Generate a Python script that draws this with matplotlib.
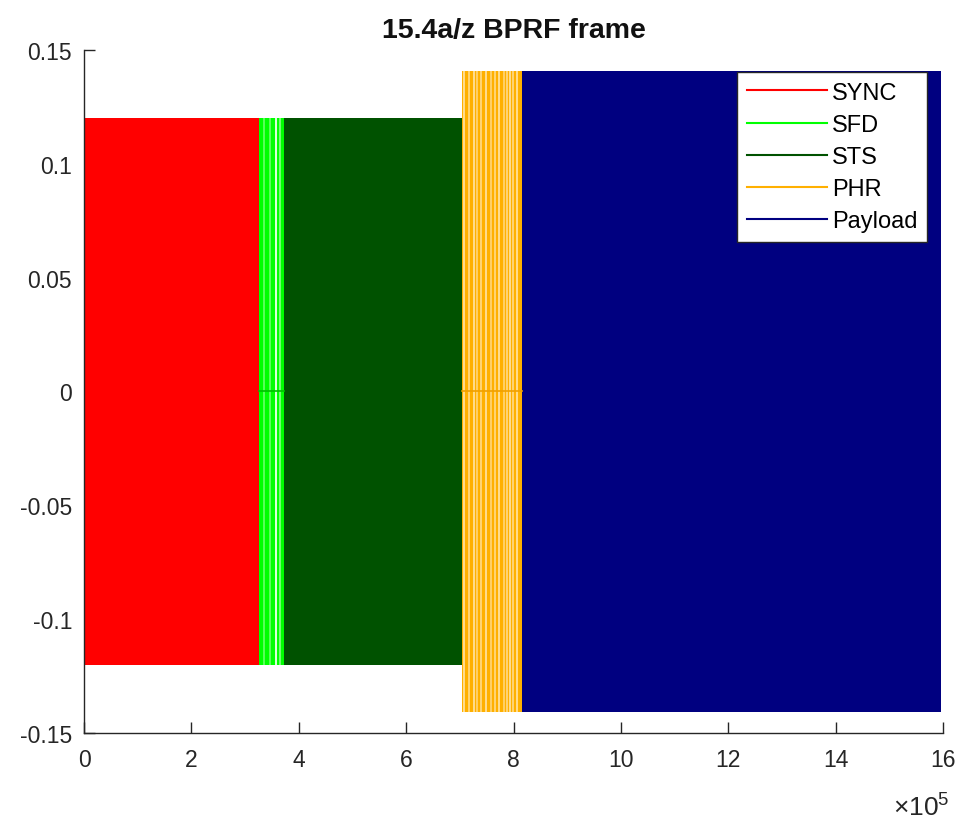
import matplotlib
matplotlib.use("Agg")
import matplotlib.pyplot as plt
from matplotlib.lines import Line2D
from matplotlib.ticker import FuncFormatter

plt.rcParams['font.family'] = ['Liberation Sans', 'DejaVu Sans']
plt.rcParams['mathtext.fontset'] = 'custom'
plt.rcParams['mathtext.rm'] = 'Liberation Sans'
plt.rcParams['mathtext.it'] = 'Liberation Sans'

# ---- data ----
segment_names = ['SYNC', 'SFD', 'STS', 'PHR', 'Payload']
segment_start = [0.0, 3.25e5, 3.72e5, 7.04e5, 8.16e5]
segment_end = [3.25e5, 3.72e5, 7.04e5, 8.16e5, 15.96e5]
segment_amp = [0.12, 0.12, 0.12, 0.1408, 0.1408]
segment_colors = ['#ff0000', '#00ff00', '#005200', '#ffb000', '#000080']

# lighter stripes (sparser pulses) inside SFD and PHR
sfd_stripes = [3.35e5, 3.46e5, 3.57e5, 3.65e5]
sfd_stripe_alpha = [0.35, 0.35, 0.85, 0.45]
phr_stripes = [7.08e5, 7.17e5, 7.26e5, 7.32e5, 7.39e5, 7.49e5, 7.58e5,
               7.66e5, 7.73e5, 7.82e5, 7.88e5, 7.93e5, 7.99e5, 8.06e5]
phr_stripe_alpha = [0.55, 0.45, 0.55, 0.4, 0.45, 0.55, 0.4,
                    0.45, 0.55, 0.4, 0.45, 0.55, 0.45, 0.55]
stripe_width = 0.04e5

yticks = [-0.15, -0.1, -0.05, 0, 0.05, 0.1, 0.15]
ytick_labels = ['-0.15', '-0.1', '-0.05', '0', '0.05', '0.1', '0.15']
xticks = [0, 2e5, 4e5, 6e5, 8e5, 10e5, 12e5, 14e5, 16e5]
x_scale = 1e5

fig = plt.figure(figsize=(9.69, 8.2), dpi=100)
ax = fig.add_axes([0.0867, 0.105, 0.8865, 0.833])

for s, e, a, c in zip(segment_start, segment_end, segment_amp, segment_colors):
    ax.fill_between([s, e], [-a, -a], [a, a], color=c, linewidth=0, zorder=2)

# light stripes
for xc, al in zip(sfd_stripes, sfd_stripe_alpha):
    ax.fill_between([xc - stripe_width / 2, xc + stripe_width / 2], -segment_amp[1], segment_amp[1],
                    color='white', alpha=al, linewidth=0, zorder=3)
for xc, al in zip(phr_stripes, phr_stripe_alpha):
    ax.fill_between([xc - stripe_width / 2, xc + stripe_width / 2], -segment_amp[3], segment_amp[3],
                    color='white', alpha=al, linewidth=0, zorder=3)

# zero baseline between sparse pulses
ax.plot([segment_start[1], segment_end[1]], [0, 0], color='#00c000', lw=1.2, zorder=4)
ax.plot([segment_start[3], segment_end[3]], [0, 0], color='#f0a000', lw=1.2, zorder=4)

ax.set_xlim(0, 16e5)
ax.set_ylim(-0.15, 0.15)
ax.set_yticks(yticks)
ax.set_yticklabels(ytick_labels)
ax.set_xticks(xticks)
ax.xaxis.set_major_formatter(FuncFormatter(lambda v, p: f'{v / x_scale:g}'))

for sp in ['top', 'right']:
    ax.spines[sp].set_visible(False)
for sp in ['left', 'bottom']:
    ax.spines[sp].set_color('#262626')
    ax.spines[sp].set_linewidth(1.0)
    ax.spines[sp].set_zorder(5)
ax.tick_params(direction='in', length=8, width=1.0, colors='#262626',
               labelsize=16.5, labelcolor='#262626')
ax.tick_params(axis='y', pad=8.5)
ax.tick_params(axis='x', pad=11)

ax.text(1.008, -0.088, r'$\times10^{5}$', transform=ax.transAxes, ha='right', va='top',
        fontsize=19, color='#262626')

ax.set_title('15.4a/z BPRF frame', fontsize=20.5, fontweight='bold', color='#111111', pad=9)

handles = [Line2D([0], [0], color=c, lw=1.5) for c in segment_colors]
leg = ax.legend(handles, segment_names, loc='upper right', fontsize=17,
                handlelength=3.4, handletextpad=0.2, labelspacing=0.43,
                borderpad=0.42, bbox_to_anchor=(0.9815, 0.968), borderaxespad=0,
                fancybox=False, framealpha=1, edgecolor='#262626')
leg.get_frame().set_linewidth(1.0)
leg.set_zorder(10)

fig.savefig('out.png', dpi=100)
